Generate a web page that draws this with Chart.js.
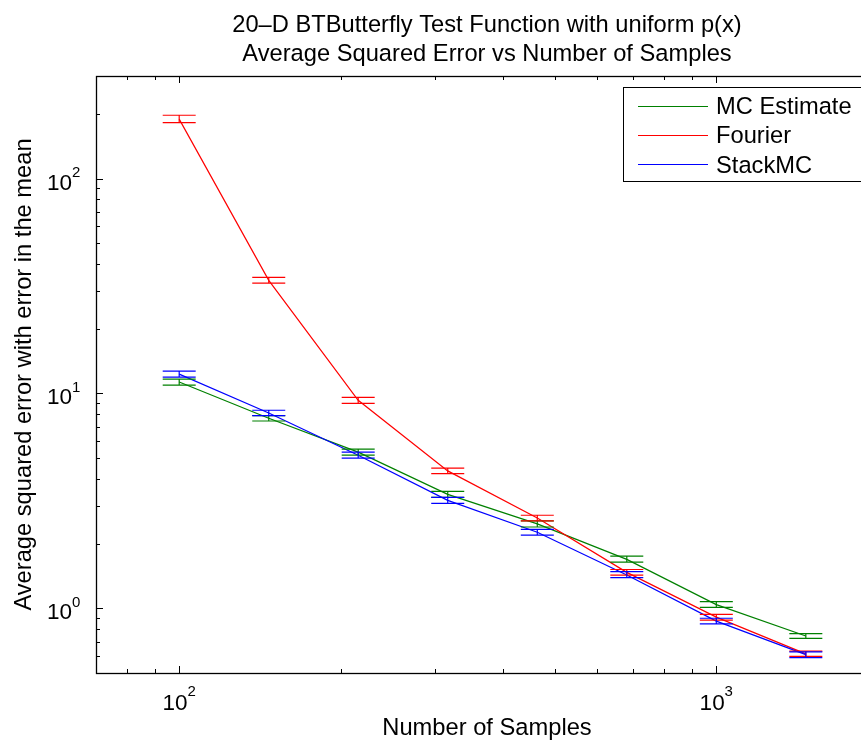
<!DOCTYPE html>
<html>
<head>
<meta charset="utf-8">
<script src="https://cdn.jsdelivr.net/npm/chart.js@4.4.1/dist/chart.umd.min.js"></script>
<style>
  html, body { margin: 0; padding: 0; background: #ffffff; overflow: hidden; width: 861px; height: 740px; }
  #wrap { width: 900px; height: 740px; position: relative; }
</style>
</head>
<body>
<div id="wrap"><canvas id="c" width="900" height="740"></canvas></div>
<script>
// ---------- data ----------
const samples = [100, 146.8, 215.4, 316.2, 464.2, 681.3, 1000, 1467.8];

const mcMean = [11.3, 7.66, 5.33, 3.39, 2.47, 1.69, 1.04, 0.743];
const mcLo   = [10.93, 7.44, 5.16, 3.28, 2.39, 1.639, 1.011, 0.724];
const mcHi   = [11.66, 7.88, 5.50, 3.50, 2.55, 1.748, 1.074, 0.763];

const fourierMean = [189, 33.6, 9.29, 4.36, 2.63, 1.47, 0.91, 0.614];
const fourierLo   = [182, 32.6, 8.99, 4.23, 2.55, 1.427, 0.882, 0.597];
const fourierHi   = [197, 34.7, 9.59, 4.49, 2.71, 1.516, 0.938, 0.632];

const stackMean = [12.3, 8.11, 5.16, 3.18, 2.26, 1.43, 0.872, 0.609];
const stackLo   = [11.9, 7.88, 5.00, 3.08, 2.19, 1.388, 0.846, 0.590];
const stackHi   = [12.69, 8.35, 5.33, 3.28, 2.33, 1.480, 0.899, 0.627];

const seriesNames = ['MC Estimate', 'Fourier', 'StackMC'];
const seriesColors = ['#008000', '#ff0000', '#0000ff'];

const xTickValues = [100, 1000];
const yTickValues = [1, 10, 100];
const xLimits = [70, 2000];
const yLimits = [0.5, 300];

const titleLines = ['20\u2013D BTButterfly Test Function with uniform p(x)', 'Average Squared Error vs Number of Samples'];
const xLabel = 'Number of Samples';
const yLabel = 'Average squared error with error in the mean';

// ---------- build ----------
const FONT = '"Liberation Sans", Arial, Helvetica, sans-serif';

function pts(ys) { return samples.map((x, i) => ({ x: x, y: ys[i] })); }

const errSets = [
  { lo: mcLo, hi: mcHi },
  { lo: fourierLo, hi: fourierHi },
  { lo: stackLo, hi: stackHi }
];
const means = [mcMean, fourierMean, stackMean];

const datasets = means.map((m, i) => ({
  label: seriesNames[i],
  data: pts(m),
  borderColor: seriesColors[i],
  backgroundColor: seriesColors[i],
  borderWidth: 1.2,
  pointRadius: 0,
  tension: 0,
  fill: false,
  order: 3 - i
}));

function expLabel(v) { return String(Math.round(Math.log10(v))); }

const decorPlugin = {
  id: 'decor',
  afterDatasetsDraw(chart) {
    const ctx = chart.ctx;
    const xs = chart.scales.x, ys = chart.scales.y;
    const a = chart.chartArea;
    ctx.save();
    ctx.beginPath();
    ctx.rect(a.left, a.top, a.right - a.left, a.bottom - a.top);
    ctx.clip();
    errSets.forEach((e, si) => {
      ctx.strokeStyle = seriesColors[si];
      ctx.lineWidth = 1.2;
      samples.forEach((x, i) => {
        const px = xs.getPixelForValue(x);
        const pLo = ys.getPixelForValue(e.lo[i]);
        const pHi = ys.getPixelForValue(e.hi[i]);
        const hw = 16.5;
        ctx.beginPath();
        ctx.moveTo(px, pLo); ctx.lineTo(px, pHi);
        ctx.moveTo(px - hw, pLo); ctx.lineTo(px + hw, pLo);
        ctx.moveTo(px - hw, pHi); ctx.lineTo(px + hw, pHi);
        ctx.stroke();
      });
    });
    ctx.restore();
  },
  afterDraw(chart) {
    const ctx = chart.ctx;
    const xs = chart.scales.x, ys = chart.scales.y;
    const a = chart.chartArea;
    ctx.save();
    ctx.strokeStyle = '#000';
    ctx.lineWidth = 1;
    const minorX = [], minorY = [];
    for (let d = 1; d <= 1000; d *= 10) for (let k = 1; k <= 9; k++) { minorX.push(d * k); minorY.push(d * k / 10); }
    ctx.beginPath();
    minorX.forEach(v => {
      if (v < xLimits[0] || v > xLimits[1]) return;
      const L = xTickValues.includes(v) ? 7 : 4;
      const px = Math.round(xs.getPixelForValue(v)) + 0.5;
      ctx.moveTo(px, a.bottom); ctx.lineTo(px, a.bottom - L);
      ctx.moveTo(px, a.top); ctx.lineTo(px, a.top + L);
    });
    minorY.forEach(v => {
      if (v < yLimits[0] || v > yLimits[1]) return;
      const L = yTickValues.includes(v) ? 7 : 4;
      const py = Math.round(ys.getPixelForValue(v)) + 0.5;
      ctx.moveTo(a.left, py); ctx.lineTo(a.left + L, py);
      ctx.moveTo(a.right, py); ctx.lineTo(a.right - L, py);
    });
    ctx.stroke();
    ctx.lineWidth = 1.3;
    ctx.strokeRect(Math.round(a.left) + 0.5, Math.round(a.top) + 0.5, Math.round(a.right - a.left) - 1, Math.round(a.bottom - a.top));

    // tick labels
    ctx.fillStyle = '#000';
    ctx.textBaseline = 'alphabetic';
    xTickValues.forEach(v => {
      const px = xs.getPixelForValue(v);
      ctx.font = '22.5px ' + FONT;
      ctx.textAlign = 'left';
      ctx.fillText('10', px - 16.7, a.bottom + 37);
      ctx.font = '15px ' + FONT;
      ctx.fillText(expLabel(v), px + 8.3, a.bottom + 22.5);
    });
    yTickValues.forEach(v => {
      const py = ys.getPixelForValue(v);
      ctx.font = '15px ' + FONT;
      ctx.textAlign = 'left';
      ctx.fillText(expLabel(v), 72, py - 1.5);
      ctx.font = '22.5px ' + FONT;
      ctx.textAlign = 'right';
      ctx.fillText('10', 72, py + 11);
    });

    // title
    ctx.textAlign = 'center';
    ctx.font = '23.7px ' + FONT;
    const cx = (a.left + a.right) / 2;
    ctx.fillText(titleLines[0], cx, 32);
    ctx.fillText(titleLines[1], cx, 60.5);
    // x label
    ctx.fillText(xLabel, cx, 735);
    // y label
    ctx.save();
    ctx.translate(31, (a.top + a.bottom) / 2);
    ctx.rotate(-Math.PI / 2);
    ctx.fillText(yLabel, 0, 0);
    ctx.restore();

    // legend
    const lx = 623, ly = 87, lw = 245, lh = 94;
    ctx.fillStyle = '#fff';
    ctx.fillRect(lx, ly, lw, lh);
    ctx.strokeStyle = '#000';
    ctx.lineWidth = 1;
    ctx.strokeRect(lx + 0.5, ly + 0.5, lw, lh);
    ctx.font = '23.7px ' + FONT;
    ctx.textAlign = 'left';
    ctx.textBaseline = 'alphabetic';
    chart.data.datasets.forEach((ds, i) => {
      const yy = 105.7 + i * 29.2;
      ctx.strokeStyle = ds.borderColor;
      ctx.lineWidth = 1.2;
      ctx.beginPath();
      ctx.moveTo(638, Math.round(yy) + 0.5); ctx.lineTo(708, Math.round(yy) + 0.5);
      ctx.stroke();
      ctx.fillStyle = '#000';
      ctx.fillText(ds.label, 716, yy + 8.5);
    });
    ctx.restore();
  }
};

new Chart(document.getElementById('c'), {
  type: 'line',
  data: { datasets: datasets },
  options: {
    responsive: false,
    animation: false,
    layout: { padding: { left: 96, top: 76, right: 22, bottom: 67 } },
    plugins: { legend: { display: false }, title: { display: false }, tooltip: { enabled: false } },
    scales: {
      x: { type: 'logarithmic', min: xLimits[0], max: xLimits[1], display: false },
      y: { type: 'logarithmic', min: yLimits[0], max: yLimits[1], display: false }
    }
  },
  plugins: [decorPlugin]
});
</script>
</body>
</html>
